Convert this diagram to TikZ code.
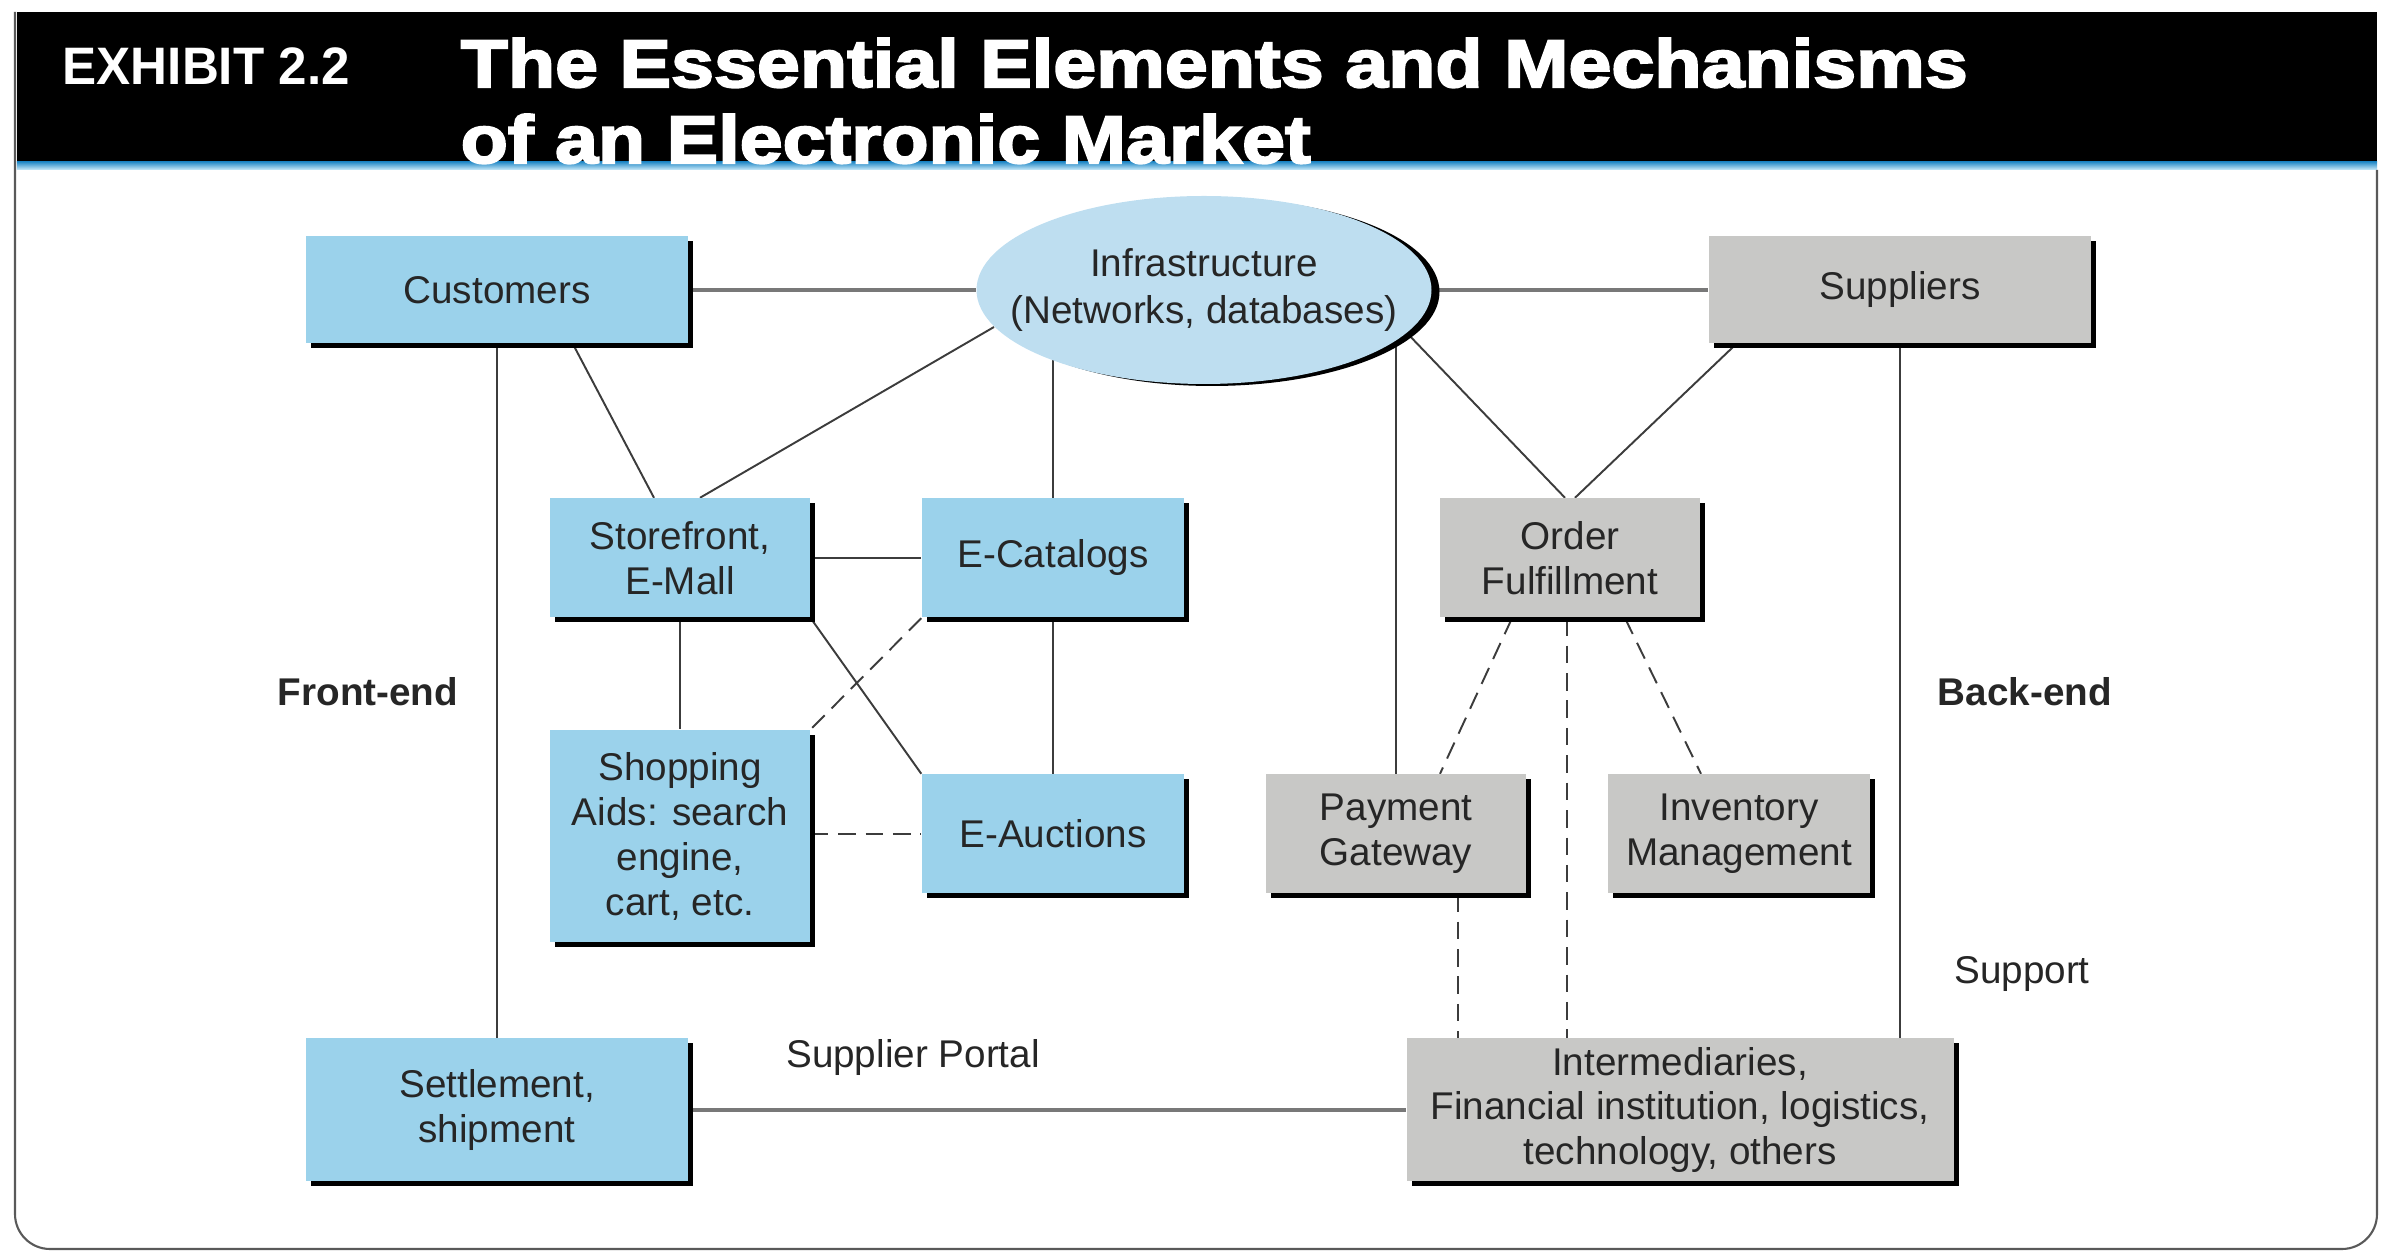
\documentclass[tikz,border=0pt]{standalone}
\usepackage{fontspec}
\setmainfont{Liberation Sans}
\newfontfamily\titlefont[FakeStretch=1.145,FakeBold=3]{Liberation Sans Bold}
\newfontfamily\exhibitfont[FakeStretch=0.97]{Liberation Sans Bold}
\usetikzlibrary{shapes.geometric,shadows,backgrounds}

\definecolor{boxblue}{RGB}{155,210,235}
\definecolor{ovalblue}{RGB}{190,222,240}
\definecolor{boxgray}{RGB}{200,200,198}
\definecolor{linegray}{RGB}{60,60,60}
\definecolor{maingray}{RGB}{120,120,120}
\definecolor{bartop}{RGB}{40,140,200}
\definecolor{barbottom}{RGB}{205,236,250}

\tikzset{
  box/.style={inner sep=0pt, align=center, text=black!85, font=\fontsize{11}{12.8}\selectfont,
    drop shadow={shadow xshift=0.05cm, shadow yshift=-0.05cm, opacity=1, fill=black}},
  bluebox/.style={box, fill=boxblue},
  graybox/.style={box, fill=boxgray},
  tag/.style={font=\fontsize{11}{12.8}\selectfont, text=black!85},
  link/.style={linegray, line width=0.55pt},
  dlink/.style={link, dash pattern=on 5pt off 2.8pt},
  mainlink/.style={maingray, line width=1.1pt},
}

\begin{document}
\begin{tikzpicture}
  \useasboundingbox (0,0) rectangle (23.86,-12.54);

  % header and frame
  \fill[black] (0.17,-0.12) rectangle (23.77,-1.62);
  \shade[top color=bartop, bottom color=barbottom] (0.17,-1.62) rectangle (23.77,-1.70);
  \draw[gray!70!black, line width=0.6pt, rounded corners=0.35cm]
    (0.15,-0.12) -- (0.15,-12.49) -- (23.77,-12.49) -- (23.77,-1.70);
  \node (exhibit) at (0.62,-0.85) [anchor=base west, inner sep=0pt, text=white,
    font=\exhibitfont\fontsize{15}{17}\selectfont]{EXHIBIT 2.2};
  \node (title1) at (4.60,-0.87) [anchor=base west, inner sep=0pt, text=white,
    font=\titlefont\fontsize{19.2}{22}\selectfont]{The Essential Elements and Mechanisms};
  \node (title2) at (4.60,-1.63) [anchor=base west, inner sep=0pt, text=white,
    font=\titlefont\fontsize{19.2}{22}\selectfont]{of an Electronic Market};

  \node (cust) at (4.97,-2.90) [bluebox, minimum width=3.82cm, minimum height=1.07cm]{Customers};
  \node (infra) at (12.04,-2.90) [ellipse, fill=ovalblue, inner xsep=-0.35cm, inner ysep=0.2cm,
    minimum width=4.55cm, minimum height=1.88cm, align=center, text=black!85,
    font=\fontsize{11}{13.3}\selectfont,
    drop shadow={shadow xshift=0.08cm, shadow yshift=-0.02cm, opacity=1, fill=black}]
    {Infrastructure\\(Networks, databases)};
  \node (supp) at (19.00,-2.90) [graybox, minimum width=3.82cm, minimum height=1.07cm]{Suppliers};

  \node (stor) at (6.80,-5.58) [bluebox, minimum width=2.60cm, minimum height=1.19cm]{Storefront,\\E-Mall};
  \node (ecat) at (10.53,-5.58) [bluebox, minimum width=2.62cm, minimum height=1.19cm]{E-Catalogs};
  \node (order) at (15.70,-5.58) [graybox, minimum width=2.60cm, minimum height=1.19cm]{Order\\Fulfillment};

  \node (shop) at (6.80,-8.36) [bluebox, minimum width=2.60cm, minimum height=2.12cm]
    {Shopping\\Aids: search\\engine,\\cart, etc.};
  \node (eauc) at (10.53,-8.34) [bluebox, minimum width=2.62cm, minimum height=1.19cm]{E-Auctions};
  \node (paygw) at (13.96,-8.34) [graybox, minimum width=2.60cm, minimum height=1.19cm]{Payment\\Gateway};
  \node (inv) at (17.39,-8.34) [graybox, minimum width=2.62cm, minimum height=1.19cm]{Inventory\\Management};

  \node (settle) at (4.97,-11.10) [bluebox, minimum width=3.82cm, minimum height=1.43cm]{Settlement,\\shipment};
  \node (inter) at (16.80,-11.10) [graybox, minimum width=5.47cm, minimum height=1.43cm]
    {Intermediaries,\\Financial institution, logistics,\\technology, others};

  \node (front) at (3.68,-6.92) [tag, font=\fontsize{11}{12.8}\selectfont\bfseries]{Front-end};
  \node (back) at (20.25,-6.92) [tag, font=\fontsize{11}{12.8}\selectfont\bfseries]{Back-end};
  \node (support) at (20.22,-9.74) [tag]{Support};
  \node (portal) at (9.13,-10.58) [tag]{Supplier Portal};

  \begin{pgfonlayer}{background}
    \draw[mainlink] (cust.east) -- (infra.west);
    \draw[mainlink] (infra.east) -- (supp.west);
    \draw[mainlink] (settle.east) -- (inter.west);

    \draw[link] (cust.south) -- (settle.north);
    \draw[link] ([xshift=0.76cm]cust.south) -- ([xshift=-0.26cm]stor.north);
    \draw[link] (infra.190) -- ([xshift=0.2cm]stor.north);
    \draw[link] (ecat.north) -- (ecat.north |- infra.center);
    \draw[link] (paygw.north) -- (paygw.north |- infra.center);
    \draw[link] (infra.-12) -- ([xshift=-0.05cm]order.north);
    \draw[link] ([xshift=-1.64cm]supp.south) -- ([xshift=0.05cm]order.north);
    \draw[link] (supp.south) -- (supp.south |- inter.north);
    \draw[link] (stor.east) -- (stor.east -| ecat.west);
    \draw[link] (stor.south) -- (shop.north);
    \draw[link] (stor.south east) -- (eauc.north west);
    \draw[link] (ecat.south) -- (eauc.north);

    \draw[dlink] (ecat.south west) -- (shop.north east);
    \draw[dlink] (shop.east |- eauc.west) -- (eauc.west);
    \draw[dlink] ([xshift=-0.58cm]order.south) -- ([xshift=0.44cm]paygw.north);
    \draw[dlink] ([xshift=-0.03cm]order.south) -- ([xshift=-0.03cm]order.south |- inter.north);
    \draw[dlink] ([xshift=0.55cm]order.south) -- ([xshift=-0.38cm]inv.north);
    \draw[dlink] ([xshift=0.62cm]paygw.south) -- ([xshift=0.62cm]paygw.south |- inter.north);
  \end{pgfonlayer}
\end{tikzpicture}
\end{document}
